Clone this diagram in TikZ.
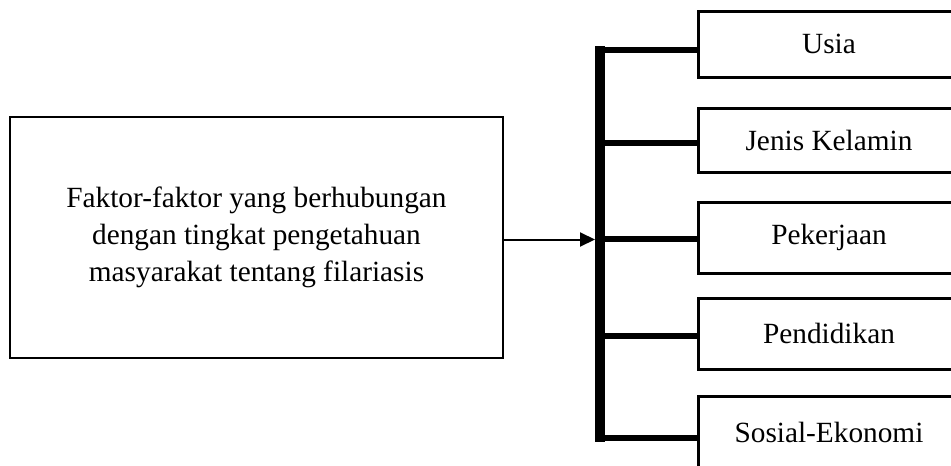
\documentclass[tikz,border=0pt]{standalone}
\usepackage{fontspec}
\setmainfont{Liberation Serif}
\usetikzlibrary{arrows.meta}
\begin{document}
\begin{tikzpicture}[x=1pt,y=-1pt,
  txt/.style={font=\fontsize{29.3}{36.7}\selectfont},
  mainbox/.style={draw, line width=2pt, minimum width=493pt, minimum height=241pt,
    align=center, inner sep=0pt, txt},
  itembox/.style={draw, line width=3pt, minimum width=262pt, inner sep=0pt, txt},
  bus/.style={line width=10pt},
  branch/.style={line width=6pt},
  link/.style={line width=2pt, -{Triangle[length=15pt,width=14pt]}}]
\useasboundingbox (0,0) rectangle (951,466);

% main factor box
\node[mainbox] (main) at (256.5,237.5)
  {Faktor-faktor yang berhubungan\\dengan tingkat pengetahuan\\masyarakat tentang filariasis};

% factor boxes on the right
\node[itembox, minimum height=65.5pt] (usia)  at (829,44.25) {Usia};
\node[itembox, minimum height=64pt]   (jk)    at (829,140)   {Jenis Kelamin};
\node[itembox, minimum height=71pt]   (kerja) at (829,237.5) {Pekerjaan};
\node[itembox, minimum height=71pt]   (didik) at (829,333.5) {Pendidikan};
\node[itembox, minimum height=72pt]   (sosek) at (829,432)   {Sosial-Ekonomi};

% vertical bus
\coordinate (btop) at (600,46);
\coordinate (bbot) at (600,441.7);
\draw[bus] (btop) -- (bbot);

% branches from the bus to each factor
\coordinate (b1) at (600,49.5);
\coordinate (b2) at (600,143);
\coordinate (b3) at (600,239);
\coordinate (b4) at (600,336);
\coordinate (b5) at (600,438.3);
\draw[branch] (b1) -- (b1 -| usia.west);
\draw[branch] (b2) -- (b2 -| jk.west);
\draw[branch] (b3) -- (b3 -| kerja.west);
\draw[branch] (b4) -- (b4 -| didik.west);
\draw[branch] (b5) -- (b5 -| sosek.west);

% arrow from the main box into the bus
\coordinate (bin) at (595,239.5);
\draw[link] (main.east |- bin) -- (bin);
\end{tikzpicture}
\end{document}
